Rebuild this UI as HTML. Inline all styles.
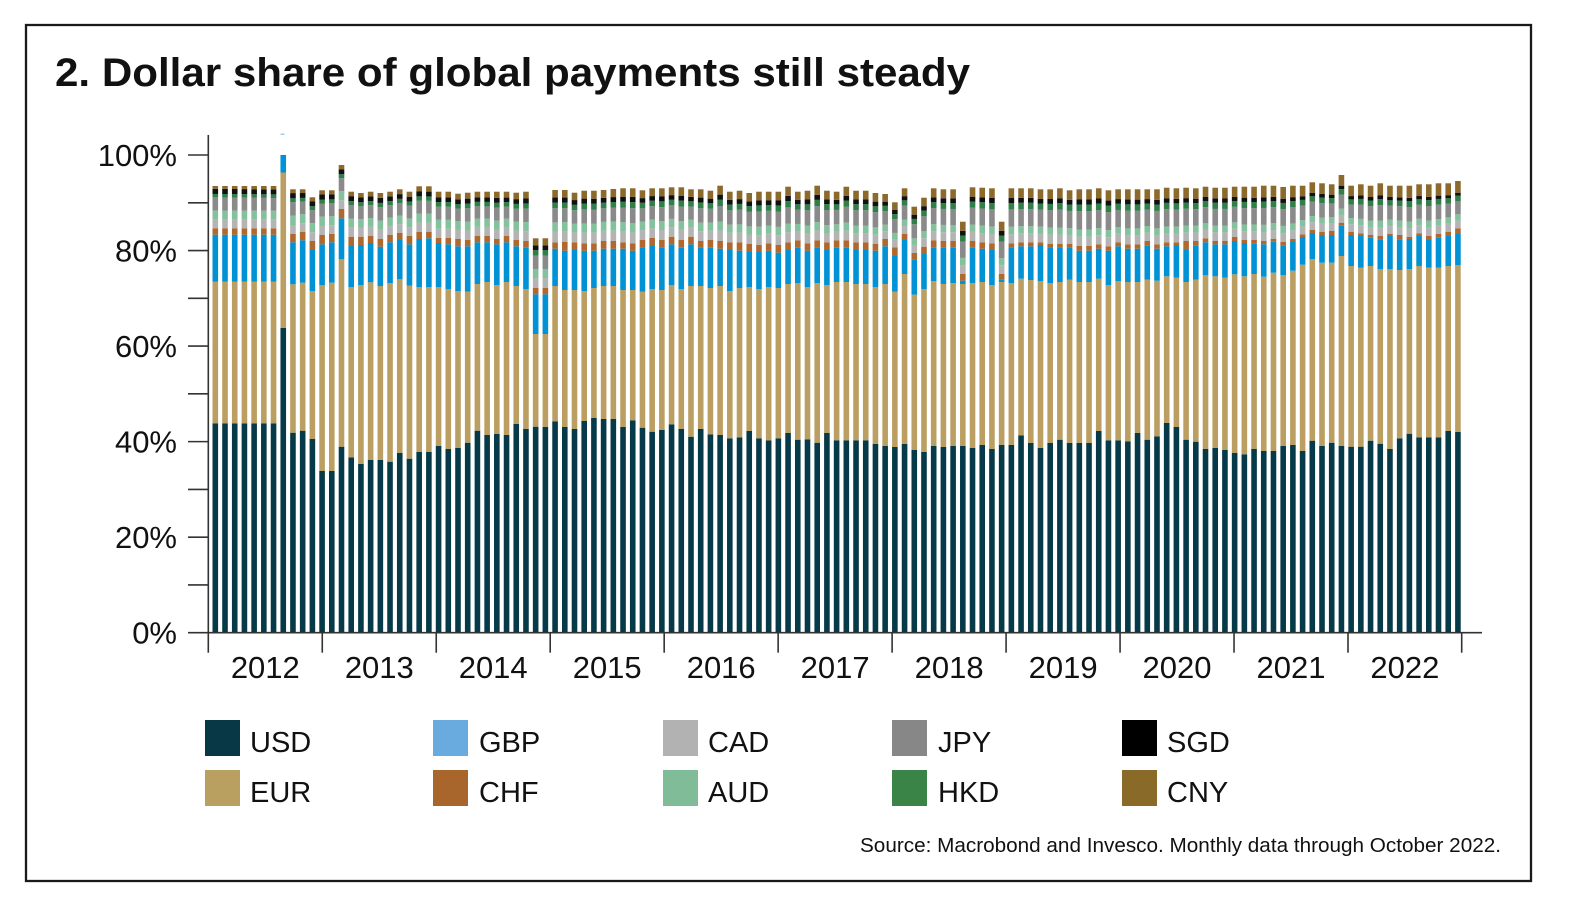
<!DOCTYPE html>
<html>
<head>
<meta charset="utf-8">
<style>
  html,body{margin:0;padding:0;background:#fff;}
  svg{display:block;}
  text{font-family:"Liberation Sans", Arial, sans-serif;fill:#111;}
</style>
</head>
<body>
<svg id="chart" xmlns="http://www.w3.org/2000/svg" width="1577" height="909" viewBox="0 0 1577 909">
  <rect x="0" y="0" width="1577" height="909" fill="#fff"/>
  <rect x="26" y="25" width="1505" height="856" fill="none" stroke="#1a1a1a" stroke-width="2.3"/>
  <text x="55" y="86" font-size="40" font-weight="bold" textLength="915" lengthAdjust="spacingAndGlyphs">2. Dollar share of global payments still steady</text>

  <g id="bars"></g>
  <rect x="280.5" y="133.5" width="4" height="1.5" fill="#9fd0ee"/>

  <g stroke="#333" stroke-width="1.6">
    <line x1="208.3" y1="135" x2="208.3" y2="633.5"/>
    <line x1="188" y1="632.7" x2="208.3" y2="632.7"/>
    <line x1="188" y1="584.93" x2="208.3" y2="584.93"/>
    <line x1="188" y1="537.16" x2="208.3" y2="537.16"/>
    <line x1="188" y1="489.39" x2="208.3" y2="489.39"/>
    <line x1="188" y1="441.62" x2="208.3" y2="441.62"/>
    <line x1="188" y1="393.85" x2="208.3" y2="393.85"/>
    <line x1="188" y1="346.08" x2="208.3" y2="346.08"/>
    <line x1="188" y1="298.31" x2="208.3" y2="298.31"/>
    <line x1="188" y1="250.54" x2="208.3" y2="250.54"/>
    <line x1="188" y1="202.77" x2="208.3" y2="202.77"/>
    <line x1="188" y1="155" x2="208.3" y2="155"/>
  </g>
  <g font-size="31" text-anchor="end">
    <text x="177" y="643.7">0%</text>
    <text x="177" y="548.2">20%</text>
    <text x="177" y="452.6">40%</text>
    <text x="177" y="357.1">60%</text>
    <text x="177" y="261.5">80%</text>
    <text x="177" y="166">100%</text>
  </g>

  <g stroke="#333" stroke-width="1.6">
    <line x1="207.5" y1="632.7" x2="1482" y2="632.7"/>
    <line x1="208.3" y1="632.7" x2="208.3" y2="652.7"/>
    <line x1="322.27" y1="632.7" x2="322.27" y2="652.7"/>
    <line x1="436.24" y1="632.7" x2="436.24" y2="652.7"/>
    <line x1="550.21" y1="632.7" x2="550.21" y2="652.7"/>
    <line x1="664.18" y1="632.7" x2="664.18" y2="652.7"/>
    <line x1="778.15" y1="632.7" x2="778.15" y2="652.7"/>
    <line x1="892.12" y1="632.7" x2="892.12" y2="652.7"/>
    <line x1="1006.09" y1="632.7" x2="1006.09" y2="652.7"/>
    <line x1="1120.06" y1="632.7" x2="1120.06" y2="652.7"/>
    <line x1="1234.03" y1="632.7" x2="1234.03" y2="652.7"/>
    <line x1="1348" y1="632.7" x2="1348" y2="652.7"/>
    <line x1="1461.7" y1="632.7" x2="1461.7" y2="652.7"/>
  </g>
  <g font-size="31" text-anchor="middle">
    <text x="265.3" y="678">2012</text>
    <text x="379.3" y="678">2013</text>
    <text x="493.2" y="678">2014</text>
    <text x="607.2" y="678">2015</text>
    <text x="721.2" y="678">2016</text>
    <text x="835.1" y="678">2017</text>
    <text x="949.1" y="678">2018</text>
    <text x="1063.1" y="678">2019</text>
    <text x="1177" y="678">2020</text>
    <text x="1291" y="678">2021</text>
    <text x="1404.9" y="678">2022</text>
  </g>

  <g>
    <rect x="205" y="720" width="35" height="36" fill="#083746"/>
    <rect x="205" y="770" width="35" height="36" fill="#b9a061"/>
    <rect x="433" y="720" width="35" height="36" fill="#6aabdf"/>
    <rect x="433" y="770" width="35" height="36" fill="#a8652c"/>
    <rect x="663" y="720" width="35" height="36" fill="#b2b2b2"/>
    <rect x="663" y="770" width="35" height="36" fill="#80bc98"/>
    <rect x="892" y="720" width="35" height="36" fill="#878787"/>
    <rect x="892" y="770" width="35" height="36" fill="#3a8447"/>
    <rect x="1122" y="720" width="35" height="36" fill="#000000"/>
    <rect x="1122" y="770" width="35" height="36" fill="#8a6a28"/>
  </g>
  <g font-size="29">
    <text x="250" y="752">USD</text>
    <text x="250" y="802">EUR</text>
    <text x="479" y="752">GBP</text>
    <text x="479" y="802">CHF</text>
    <text x="708" y="752">CAD</text>
    <text x="708" y="802">AUD</text>
    <text x="938" y="752">JPY</text>
    <text x="938" y="802">HKD</text>
    <text x="1167" y="752">SGD</text>
    <text x="1167" y="802">CNY</text>
  </g>

  <text x="1501" y="852" font-size="20" text-anchor="end" textLength="641" lengthAdjust="spacingAndGlyphs">Source: Macrobond and Invesco. Monthly data through October 2022.</text>
</svg>

<script>
(function(){
  var D = [
  [423.3,281.7,234.7,228.3,186],[423.3,281.7,234.7,228.3,186],[423.3,281.7,234.7,228.3,186],
  [423.3,281.7,234.7,228.3,186],[423.3,281.7,234.7,228.3,186],[423.3,281.7,234.7,228.3,186],
  [423.3,281.7,234.7,228.3,186],
  [328,172.5,155,155,155],
  [432.7,284.3,242.3,234,189.3],[430.7,282.7,240.3,231.7,189.3],[439,291,250,241,197.3],
  [471,285,244.3,235,190.3],[471,282.7,242.3,234,190.3],[446.7,259.3,218.3,209,165],
  [457.3,287,246,236.7,191.7],[464,285,245,236.7,193],[460,282.3,243,235.7,191.7],
  [460,286,246.7,239,193],[461.7,283,242.3,235,191.7],[453,279.3,240,233,189.3],
  [458.7,285.7,244.3,236,191.7],[452,287,239,231.7,186.3],[452,287,238.3,231.7,186.3],
  [446,287,243,238,191.7],[449,289,244.3,238,191.7],[448,291,246.3,239,193.7],
  [442.7,291.7,246.3,240,192.7],[430.7,284,242.3,235.7,191.7],[435,282,242.3,235.7,191.7],
  [434,285,244.3,239,191.7],[435,282,242.3,235.7,191.7],[424,286,246.3,240,192.7],
  [429,289,247.7,241,191.7],[426.7,334,294.3,288,238.3],[427,334,294.3,288,238.3],
  [421.3,286,248.7,242.3,190],[427,290,250.7,241.7,190],[429,290,250,242.3,192.7],
  [421,291,250.7,243.3,190.7],[418,288,250.7,243.3,190.7],[419,286,248.7,241,190],
  [419,286,248.7,241,189],[427,290,248.7,242.3,188.3],[420.3,290,250.7,243.3,188.3],
  [427.7,291.7,247.3,240,190.3],[431.7,289,246,237.7,188.3],[430,290,247.3,240,188.3],
  [424.3,285,244.3,236.7,187.3],[429,289,247.7,240,187.3],[436.7,286,244.3,236.7,189.3],
  [429,286,247.3,241,189.3],[434.3,288,247.7,240,190.7],[435,286,248.7,241,185.7],
  [438.3,291,250,242.3,191.7],[437.3,288,250.7,242.3,190.7],[431,287,252,244,193],
  [438.3,289,252,245,191.7],[440.3,287,250.7,243.3,191.7],[438.3,288,252.7,245,191.7],
  [433,284,250,242.3,186.7],[439.7,283,247.7,240.3,191.7],[439.3,287,250.7,243.3,190.7],
  [442.7,283,247.3,240.3,185.7],[433,285,250,242.3,190.7],[440.3,282,247.7,240.3,191.7],
  [440.3,282,247.7,240.3,186.7],[440.3,284,250,242.3,190.7],[440.3,284,250,242.3,190.7],
  [444,287,250.7,243.7,193],[446,284,246.3,239,194],[447,291.7,256,247.3,202.3],
  [444,274,240,234,188.3],[450,294.7,259.3,253,206.7],[452,289,254,246.7,197.7],
  [446,281,247.7,240.3,188.3],[447,284,247.7,241,189.3],[446,283,247.7,241,189.3],
  [446,284,280.7,274,221.7],[448,283,247.7,241,187.3],[445,282,248.7,242.3,187.7],
  [449,285,250,243.3,188.3],[445,282,279.3,274,221.7],[445,283,247.3,243.3,188.3],
  [435.3,278.7,246.3,242.3,188.3],[443,280,246.3,242.3,188.3],[448,281,245,242.3,189.3],
  [443,283,247.3,243.7,189.3],[439.7,282,247.3,243.7,188.3],[443,279.7,247.3,243.7,190.3],
  [443,282,250.7,246,189.3],[443,282,250.7,246,189.3],[431,278.7,248.7,244.3,188.3],
  [440.3,285,250.7,246.3,190.3],[440.3,281,246.3,242.3,189.3],[441.3,282,248.7,244.3,189.3],
  [433,282,248.7,244.3,189.3],[439.7,279.7,245.3,241,189.3],[436.3,280.7,248.7,244.3,189.3],
  [423,276.3,246.3,242.3,187.7],[427,277.7,245,242.3,188.3],[439.7,282,250,241,187.7],
  [441.7,279.7,245.3,241,188.3],[449,275.3,242.3,238.3,186.7],[448,276.3,244.3,241,187.7],
  [450,277.7,244.3,241,187.7],[453,274.3,241,237,186.7],[454.3,276.3,243,240,186.7],
  [449,274,243.3,240,186.7],[451,276.7,244.3,241,185.7],[451,272.7,241.7,238.7,185.7],
  [446,275,245.3,242,187],[445,270.7,242,239,185.7],[451,264.7,237,234.3,185.7],
  [440.7,259,233,230,182.3],[446,262.7,235,231.7,183.3],[442.7,262.7,235,231,184.3],
  [446,256,225.7,222.7,175],[446.7,266,235,231.7,185.7],[446.7,267.7,236,233.3,184.3],
  [440.7,266,237.7,235,185.7],[443.7,269,239.3,236,183.3],[449,269,236,234,185.7],
  [438.3,270,239.3,235,185.7],[433.7,269,239,236.7,185.7],[437.3,266,236,233.3,184.3],
  [437.3,267.7,240,236,184.3],[437.3,267.7,237.7,234,183.3],[431,266,236,231.7,183.3],
  [432,265,234,228.3,181]
  ];
  var base = 632.7;
  var anchors = [
    [0,[8.3,9,12.7,3.3,5,2.7]],
    [40,[9,8,12,5,4.3,7]],
    [90,[9,7,18,6.5,5,10]],
    [128,[7.7,6.3,13.3,5.3,3,11.7]]
  ];
  function wts(i){
    for (var a=0;a<anchors.length-1;a++){
      var i0=anchors[a][0], w0=anchors[a][1], i1=anchors[a+1][0], w1=anchors[a+1][1];
      if (i<=i1){
        var t=(i-i0)/(i1-i0);
        return w0.map(function(v,k){return v+(w1[k]-v)*t;});
      }
    }
    return anchors[anchors.length-1][1];
  }
  var smallCols = ['#b4b4b4','#84c19c','#8a8a8a','#2f8048','#111111','#8b6a2b'];
  var html = '';
  var bw = 5.6;
  D.forEach(function(d,i){
    var x = (215.3 + i*9.708 - bw/2).toFixed(2);
    var u=d[0], e=d[1], g=d[2], c=d[3], t=d[4];
    var segs = [[u,base,'#073a48'],[e,u,'#bb9f62'],[g,e,'#0092d4'],[c,g,'#b0682e']];
    var ws = wts(i);
    var sum = ws.reduce(function(a,b){return a+b;},0);
    var span = c - t;
    var y = c;
    if (span > 0.5){
      ws.forEach(function(v,k){
        var h = v/sum*span;
        segs.push([y-h,y,smallCols[k]]);
        y -= h;
      });
    }
    segs.forEach(function(s){
      var h = s[1]-s[0];
      if (h > 0.05){
        html += '<rect x="'+x+'" y="'+s[0].toFixed(2)+'" width="'+bw+'" height="'+h.toFixed(2)+'" fill="'+s[2]+'"/>';
      }
    });
  });
  document.getElementById('bars').innerHTML = html;
})();
</script>
</body>
</html>
